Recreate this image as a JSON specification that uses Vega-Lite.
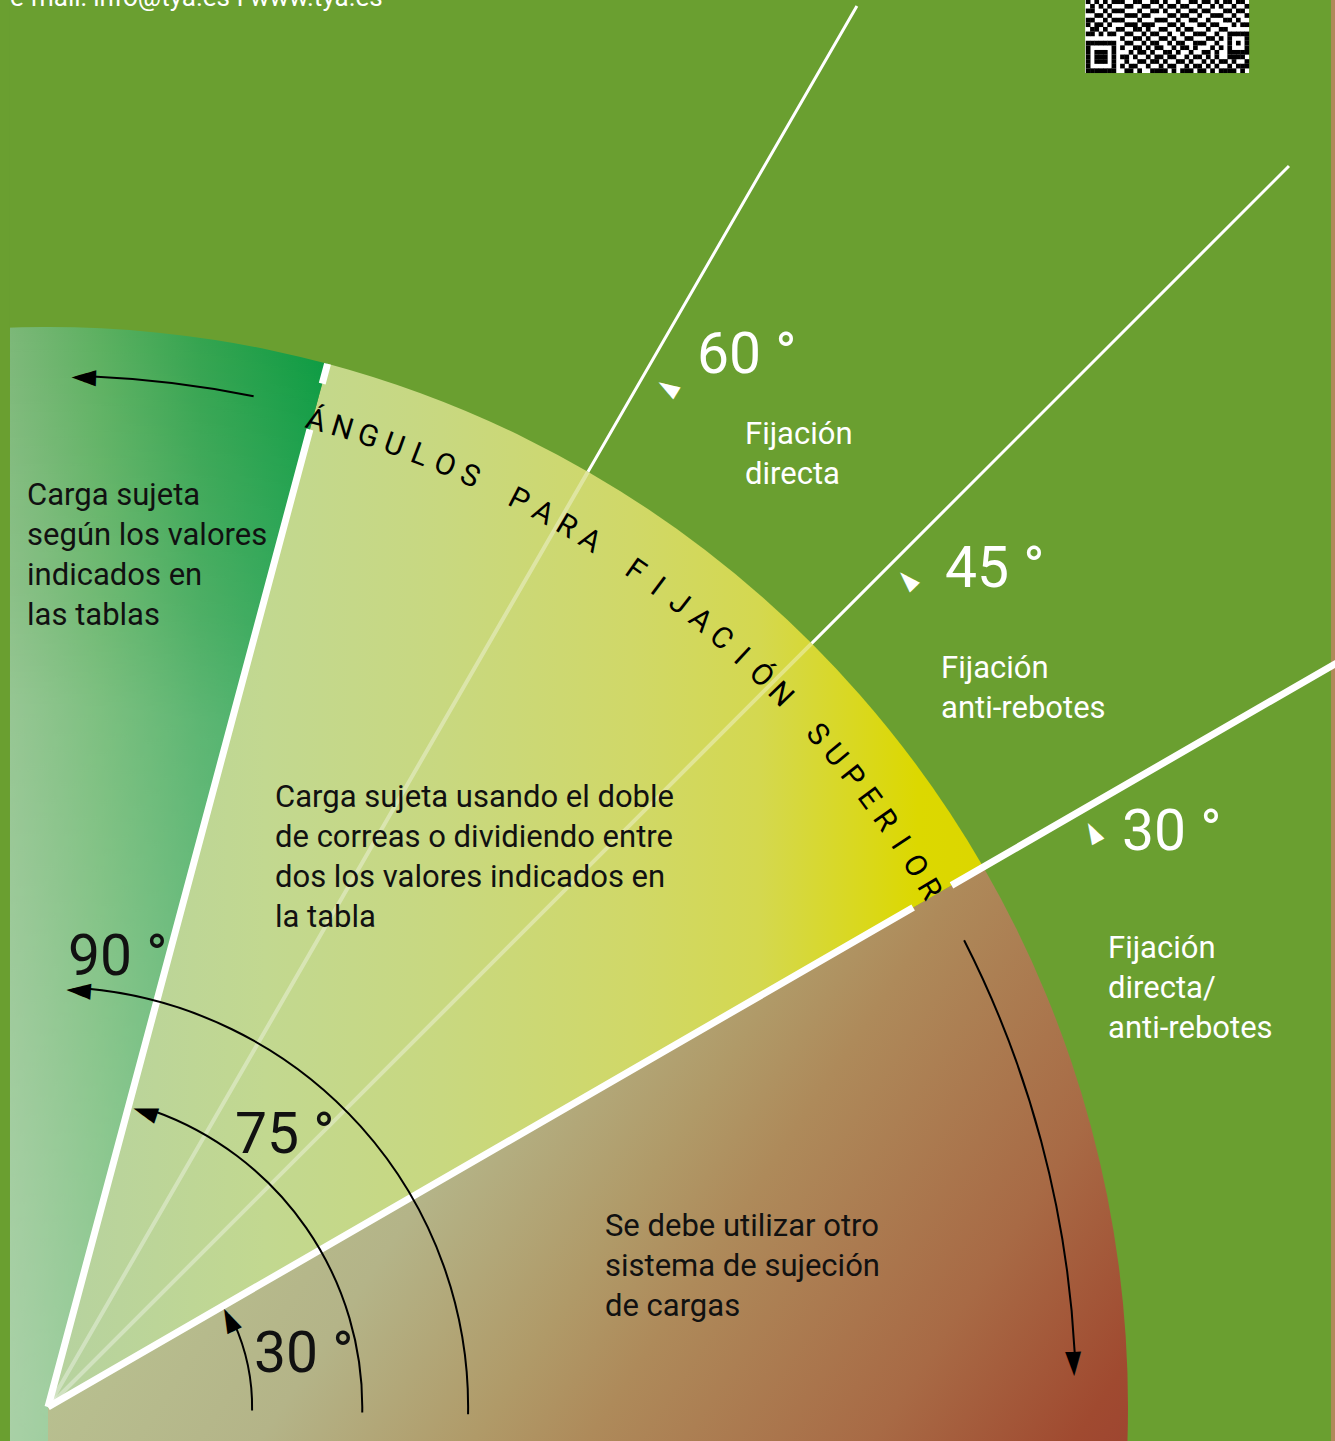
{
"$schema":"https://vega.github.io/schema/vega-lite/v6.json",
"width":1335,"height":1441,"padding":0,"autosize":{"type":"none"},
"background":"#6a9f30",
"usermeta":{"embedOptions":{"actions":false}},
"config":{"view":{"stroke":null},"axis":{"disable":true}},
"resolve":{"scale":{"x":"independent","y":"independent"}},
"layer":[
{"layer":[
 {"data":{"values":[{"a0":-90,"a1":30,"r":1}]},
  "mark":{"type":"arc","stroke":null,"fill":{"gradient":"linear","x1":0,"y1":0,"x2":1,"y2":1,"stops":[{"offset":0,"color":"#b8c898"},{"offset":0.16,"color":"#b8c090"},{"offset":0.275,"color":"#b4b488"},{"offset":0.374,"color":"#b09a68"},{"offset":0.427,"color":"#ae8a5a"},{"offset":0.559,"color":"#a86a45"},{"offset":0.652,"color":"#a04a30"},{"offset":0.7,"color":"#9c4230"},{"offset":1,"color":"#9c4230"}]}},
  "encoding":{
   "x":{"datum":0,"type":"quantitative","scale":{"domain":[-0.044444,1.191667],"nice":false,"zero":false},"axis":null,"stack":null},
   "y":{"datum":0,"type":"quantitative","scale":{"domain":[-0.031481,1.302778],"nice":false,"zero":false},"axis":null,"stack":null},
   "theta":{"field":"a0","type":"quantitative","scale":{"domain":[90,-270],"range":[0,6.283185307179586],"nice":false,"zero":false},"stack":null},
   "theta2":{"field":"a1"},
   "radius":{"field":"r","type":"quantitative","scale":{"type":"linear","domain":[0,1],"range":[0,1080],"nice":false,"zero":true},"stack":null}}},
 {"data":{"values":[{"a0":30,"a1":75,"r":1}]},
  "mark":{"type":"arc","stroke":null,"fill":{"gradient":"linear","x1":0,"y1":0,"x2":1,"y2":0,"stops":[{"offset":0,"color":"#b6d2a0"},{"offset":0.232,"color":"#c2d890"},{"offset":0.421,"color":"#c8d880"},{"offset":0.623,"color":"#d0d868"},{"offset":0.759,"color":"#d4d850"},{"offset":0.88,"color":"#dad818"},{"offset":0.93,"color":"#dcd800"},{"offset":1,"color":"#dcd600"}]}},
  "encoding":{
   "x":{"datum":0,"type":"quantitative","axis":null,"stack":null},
   "y":{"datum":0,"type":"quantitative","axis":null,"stack":null},
   "theta":{"field":"a0","type":"quantitative","stack":null},
   "theta2":{"field":"a1"},
   "radius":{"field":"r","type":"quantitative","scale":{"type":"linear"},"stack":null}}},
 {"data":{"values":[{"a0":75,"a1":270,"r":1}]},
  "mark":{"type":"arc","stroke":null,"fill":{"gradient":"linear","x1":0,"y1":0,"x2":1,"y2":0,"stops":[{"offset":0,"color":"#7cb878"},{"offset":0.7665,"color":"#7cb878"},{"offset":0.833,"color":"#5cb060"},{"offset":0.906,"color":"#35a450"},{"offset":1,"color":"#0e9c44"}]}},
  "encoding":{
   "x":{"datum":0,"type":"quantitative","axis":null,"stack":null},
   "y":{"datum":0,"type":"quantitative","axis":null,"stack":null},
   "theta":{"field":"a0","type":"quantitative","stack":null},
   "theta2":{"field":"a1"},
   "radius":{"field":"r","type":"quantitative","scale":{"type":"linear"},"stack":null}}},
 {"data":{"values":[{"a0":75,"a1":270,"r":1}]},
  "mark":{"type":"arc","stroke":null,"fill":{"gradient":"radial","x1":0.6853,"y1":0.5,"r1":0,"x2":0.6853,"y2":0.5,"r2":0.5,"stops":[{"offset":0,"color":"rgba(255,255,255,0.35)"},{"offset":0.25,"color":"rgba(255,255,255,0.3)"},{"offset":0.65,"color":"rgba(255,255,255,0.2)"},{"offset":0.75,"color":"rgba(255,255,255,0.12)"},{"offset":1,"color":"rgba(255,255,255,0)"}]}},
  "encoding":{
   "x":{"datum":0,"type":"quantitative","axis":null,"stack":null},
   "y":{"datum":0,"type":"quantitative","axis":null,"stack":null},
   "theta":{"field":"a0","type":"quantitative","stack":null},
   "theta2":{"field":"a1"},
   "radius":{"field":"r","type":"quantitative","scale":{"type":"linear"},"stack":null}}},
 {"data":{"values":[{"x0":-0.06,"x1":-0.0352,"y0":-0.06,"y1":1.36}]},
  "mark":{"type":"rect","fill":"#6a9f30"},
  "encoding":{"x":{"field":"x0","type":"quantitative","axis":null},"x2":{"field":"x1"},"y":{"field":"y0","type":"quantitative","axis":null},"y2":{"field":"y1"}}},
 {"data":{"values":[{"x0":1.188,"x1":1.22,"y0":-0.06,"y1":1.36}]},
  "mark":{"type":"rect","fill":"#b08a5a"},
  "encoding":{"x":{"field":"x0","type":"quantitative","axis":null},"x2":{"field":"x1"},"y":{"field":"y0","type":"quantitative","axis":null},"y2":{"field":"y1"}}},
 {"data":{"values":[{"a":60,"r0":0,"r1":1},{"a":45,"r0":0,"r1":1}]},
  "mark":{"type":"arc","filled":false,"stroke":"white","strokeWidth":4,"strokeOpacity":0.35},
  "encoding":{
   "x":{"datum":0,"type":"quantitative","axis":null,"stack":null},
   "y":{"datum":0,"type":"quantitative","axis":null,"stack":null},
   "theta":{"field":"a","type":"quantitative","stack":null},
   "theta2":{"field":"a"},
   "radius":{"field":"r1","type":"quantitative","scale":{"type":"linear"},"stack":null},
   "radius2":{"field":"r0"}}},
 {"data":{"values":[{"a":60,"r0":1,"r1":1.498},{"a":45,"r0":1,"r1":1.625}]},
  "mark":{"type":"arc","filled":false,"stroke":"white","strokeWidth":3},
  "encoding":{
   "x":{"datum":0,"type":"quantitative","axis":null,"stack":null},
   "y":{"datum":0,"type":"quantitative","axis":null,"stack":null},
   "theta":{"field":"a","type":"quantitative","stack":null},
   "theta2":{"field":"a"},
   "radius":{"field":"r1","type":"quantitative","scale":{"type":"linear"},"stack":null},
   "radius2":{"field":"r0"}}},
 {"data":{"values":[{"a":75,"r0":0,"r1":0.937},{"a":75,"r0":0.981,"r1":1.0},{"a":30,"r0":0,"r1":0.925},{"a":30,"r0":0.966,"r1":1.4}]},
  "mark":{"type":"arc","filled":false,"stroke":"white","strokeWidth":7},
  "encoding":{
   "x":{"datum":0,"type":"quantitative","axis":null,"stack":null},
   "y":{"datum":0,"type":"quantitative","axis":null,"stack":null},
   "theta":{"field":"a","type":"quantitative","stack":null},
   "theta2":{"field":"a"},
   "radius":{"field":"r1","type":"quantitative","scale":{"type":"linear"},"stack":null},
   "radius2":{"field":"r0"}}},
 {"data":{"values":[{"a0":-1,"a1":24.5,"r":0.189},{"a0":-1,"a1":70.5,"r":0.291},{"a0":-1,"a1":84.8,"r":0.389},{"a0":78.5,"a1":87.5,"r":0.955},{"a0":3,"a1":27,"r":0.952}]},
  "mark":{"type":"arc","filled":false,"stroke":"black","strokeWidth":2},
  "encoding":{
   "x":{"datum":0,"type":"quantitative","axis":null,"stack":null},
   "y":{"datum":0,"type":"quantitative","axis":null,"stack":null},
   "theta":{"field":"a0","type":"quantitative","stack":null},
   "theta2":{"field":"a1"},
   "radius":{"field":"r","type":"quantitative","scale":{"type":"linear"},"stack":null},
   "radius2":{"field":"r"}}},
 {"data":{"values":[{"a":25.7,"r":0.188},{"a":71.8,"r":0.289},{"a":85.8,"r":0.388},{"a":88.0,"r":0.955}]},
  "mark":{"type":"text","text":"◄","font":"DejaVu Sans","fontSize":32,"color":"black","align":"center","baseline":"middle"},
  "encoding":{
   "x":{"datum":0,"type":"quantitative","axis":null,"stack":null},
   "y":{"datum":0,"type":"quantitative","axis":null,"stack":null},
   "theta":{"field":"a","type":"quantitative","stack":null},
   "radius":{"field":"r","type":"quantitative","scale":{"type":"linear"},"stack":null},
   "angle":{"field":"a","type":"quantitative","scale":{"domain":[0,90],"range":[90,0],"nice":false,"zero":false}}}},
 {"data":{"values":[{"a":2.4,"r":0.952}]},
  "mark":{"type":"text","text":"►","font":"DejaVu Sans","fontSize":32,"color":"black","align":"center","baseline":"middle"},
  "encoding":{
   "x":{"datum":0,"type":"quantitative","axis":null,"stack":null},
   "y":{"datum":0,"type":"quantitative","axis":null,"stack":null},
   "theta":{"field":"a","type":"quantitative","stack":null},
   "radius":{"field":"r","type":"quantitative","scale":{"type":"linear"},"stack":null},
   "angle":{"field":"a","type":"quantitative"}}},
 {"data":{"values":[{"a":58.7,"r":1.105},{"a":43.9,"r":1.105},{"a":28.8,"r":1.105}]},
  "mark":{"type":"text","text":"◄","font":"DejaVu Sans","fontSize":28,"color":"white","align":"center","baseline":"middle"},
  "encoding":{
   "x":{"datum":0,"type":"quantitative","axis":null,"stack":null},
   "y":{"datum":0,"type":"quantitative","axis":null,"stack":null},
   "theta":{"field":"a","type":"quantitative","stack":null},
   "radius":{"field":"r","type":"quantitative","scale":{"type":"linear"},"stack":null},
   "angle":{"field":"a","type":"quantitative"}}},
 {"data":{"values":[{"ch":"Á","a":74.8},{"ch":"N","a":73.27},{"ch":"G","a":71.74},{"ch":"U","a":70.21},{"ch":"L","a":68.68},{"ch":"O","a":67.15},{"ch":"S","a":65.62},{"ch":"P","a":62.56},{"ch":"A","a":61.03},{"ch":"R","a":59.5},{"ch":"A","a":57.97},{"ch":"F","a":54.91},{"ch":"I","a":53.38},{"ch":"J","a":51.85},{"ch":"A","a":50.32},{"ch":"C","a":48.79},{"ch":"I","a":47.26},{"ch":"Ó","a":45.73},{"ch":"N","a":44.2},{"ch":"S","a":41.14},{"ch":"U","a":39.61},{"ch":"P","a":38.08},{"ch":"E","a":36.55},{"ch":"R","a":35.02},{"ch":"I","a":33.49},{"ch":"O","a":31.96},{"ch":"R","a":30.43}]},
  "mark":{"type":"text","font":"Roboto","fontSize":30,"color":"black","align":"center","baseline":"middle"},
  "encoding":{
   "x":{"datum":0,"type":"quantitative","axis":null,"stack":null},
   "y":{"datum":0,"type":"quantitative","axis":null,"stack":null},
   "theta":{"field":"a","type":"quantitative","stack":null},
   "radius":{"datum":0.946,"type":"quantitative","scale":{"type":"linear"},"stack":null},
   "angle":{"field":"a","type":"quantitative"},
   "text":{"field":"ch","type":"nominal"}}},
 {"data":{"values":[{"t":"Carga sujeta\nsegún los valores\nindicados en\nlas tablas","x":-0.0194,"y":0.8352},{"t":"Carga sujeta usando el doble\nde correas o dividiendo entre\ndos los valores indicados en\nla tabla","x":0.2102,"y":0.5556},{"t":"Se debe utilizar otro\nsistema de sujeción\nde cargas","x":0.5157,"y":0.1583}]},
  "mark":{"type":"text","font":"Roboto","fontSize":31,"lineHeight":40,"lineBreak":"\n","color":"#111111","align":"left","baseline":"alphabetic"},
  "encoding":{"x":{"field":"x","type":"quantitative","axis":null},"y":{"field":"y","type":"quantitative","axis":null},"text":{"field":"t","type":"nominal"}}},
 {"data":{"values":[{"t":"Fijación\ndirecta","x":0.6454,"y":0.8917},{"t":"Fijación\nanti-rebotes","x":0.8269,"y":0.675},{"t":"Fijación\ndirecta/\nanti-rebotes","x":0.9815,"y":0.4157}]},
  "mark":{"type":"text","font":"Roboto","fontSize":31,"lineHeight":40,"lineBreak":"\n","color":"white","align":"left","baseline":"alphabetic"},
  "encoding":{"x":{"field":"x","type":"quantitative","axis":null},"y":{"field":"y","type":"quantitative","axis":null},"text":{"field":"t","type":"nominal"}}},
 {"data":{"values":[{"t":"90 °","x":0.0185,"y":0.4},{"t":"75 °","x":0.1731,"y":0.2352},{"t":"30 °","x":0.1907,"y":0.0324}]},
  "mark":{"type":"text","font":"Roboto","fontSize":57,"color":"#111111","align":"left","baseline":"alphabetic"},
  "encoding":{"x":{"field":"x","type":"quantitative","axis":null},"y":{"field":"y","type":"quantitative","axis":null},"text":{"field":"t","type":"nominal"}}},
 {"data":{"values":[{"t":"60 °","x":0.6009,"y":0.9574},{"t":"45 °","x":0.8306,"y":0.7593},{"t":"30 °","x":0.9944,"y":0.5157}]},
  "mark":{"type":"text","font":"Roboto","fontSize":57,"color":"white","align":"left","baseline":"alphabetic"},
  "encoding":{"x":{"field":"x","type":"quantitative","axis":null},"y":{"field":"y","type":"quantitative","axis":null},"text":{"field":"t","type":"nominal"}}},
 {"data":{"values":[{"t":"e-mail: info@tya.es I www.tya.es","x":-0.0352,"y":1.2972}]},
  "mark":{"type":"text","font":"Roboto","fontSize":26,"color":"white","align":"left","baseline":"alphabetic"},
  "encoding":{"x":{"field":"x","type":"quantitative","axis":null},"y":{"field":"y","type":"quantitative","axis":null},"text":{"field":"t","type":"nominal"}}}
]},
{"layer":[
 {"data":{"values":[{"c0":-0.7,"c1":37.5,"r0":-0.5,"r1":17}]},
  "mark":{"type":"rect","fill":"white"},
  "encoding":{"x":{"field":"c0","type":"quantitative","scale":{"domain":[-253.65,57.54],"nice":false,"zero":false},"axis":null},"x2":{"field":"c1"},"y":{"field":"r0","type":"quantitative","scale":{"domain":[-297.89,15.37],"nice":false,"zero":false},"axis":null},"y2":{"field":"r1"}}},
 {"data":{"values":[
  {"r":0,"cs":[0,1,2,3,4,5,6,9,10,12,15,16,17,18,20,22,23,24,26,27,29,31,32,33,34,36]},
  {"r":1,"cs":[0,6,8,10,11,14,17,19,20,23,25,26,28,30,33,35,36,37]},
  {"r":2,"cs":[0,2,3,4,6,9,12,13,15,16,18,21,22,24,27,29,31,32,34,37]},
  {"r":3,"cs":[0,2,3,4,6,8,9,11,14,16,17,19,20,23,25,26,28,30,33,34,35,36]},
  {"r":4,"cs":[0,2,3,4,6,10,12,13,15,18,19,21,24,27,28,30,33,34,35,36,37]},
  {"r":5,"cs":[0,6,8,11,12,14,16,17,20,22,23,25,29,31,33,37]},
  {"r":6,"cs":[0,1,2,3,4,5,6,9,10,13,15,16,19,21,22,25,26,27,30,33,35,37]},
  {"r":7,"cs":[8,11,12,14,17,18,20,23,24,28,29,31,33,37]},
  {"r":8,"cs":[0,1,3,5,6,9,10,13,15,16,19,22,25,26,27,30,33,34,35,36,37]},
  {"r":9,"cs":[1,2,4,7,8,11,12,14,17,18,21,23,24,28,31,32]},
  {"r":10,"cs":[0,2,3,5,9,10,11,13,14,15,19,20,22,26,27,29,30,34,36,37]},
  {"r":11,"cs":[0,1,4,6,7,8,12,16,17,18,21,24,25,28,32,33,35]},
  {"r":12,"cs":[2,3,5,9,10,11,13,14,19,20,22,23,26,29,30,31,34,37]},
  {"r":13,"cs":[0,1,4,6,7,8,12,15,16,18,21,24,25,27,28,32,33,35,36]},
  {"r":14,"cs":[1,3,5,9,10,13,14,17,19,20,22,23,26,29,31,34,37]},
  {"r":15,"cs":[0,2,4,6,7,8,11,12,15,16,18,21,24,25,27,28,30,32,33,35,36]}]},
  "transform":[{"flatten":["cs"]}],
  "mark":{"type":"square","size":22,"color":"black","opacity":1,"filled":true},
  "encoding":{"x":{"field":"cs","type":"quantitative","axis":null},"y":{"field":"r","type":"quantitative","axis":null}}}
]}
]
}
